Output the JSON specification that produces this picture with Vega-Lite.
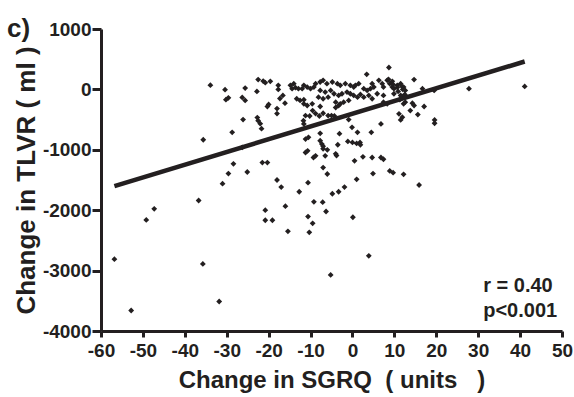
{
  "$schema": "https://vega.github.io/schema/vega-lite/v6.json",
  "width": 461,
  "height": 302,
  "autosize": {"type": "none"},
  "padding": {"left": 101, "top": 29, "right": 12, "bottom": 66},
  "background": "white",
  "title": {"text": "c)", "anchor": "start", "frame": "group", "dx": -94, "dy": 43, "offset": 0, "baseline": "alphabetic", "font": "Liberation Sans", "fontSize": 26, "fontWeight": "bold", "color": "#231f20"},
  "config": {
    "view": {"stroke": null},
    "axis": {
      "grid": false,
      "labelFont": "Liberation Sans", "labelFontWeight": "bold", "labelFontSize": 19, "labelColor": "#231f20",
      "domainColor": "#231f20", "domainWidth": 3, "tickColor": "#231f20", "tickWidth": 3, "tickSize": 6,
      "titleFont": "Liberation Sans", "titleFontWeight": "bold", "titleFontSize": 24, "titleColor": "#231f20",
      "labelFlush": false, "labelOverlap": false, "labelExpr": "'' + datum.value"
    }
  },
  "datasets": {
    "points": [
      {"x":-33.9,"y":70},{"x":-30.4,"y":-5},{"x":-25.6,"y":22},{"x":-29.6,"y":-140},{"x":-30.2,"y":-170},{"x":-26.3,"y":-133},{"x":-25.6,"y":-183},{"x":-22.5,"y":162},{"x":-21.3,"y":138},{"x":-19.6,"y":133},{"x":-22.8,"y":-33},{"x":-17.7,"y":67},{"x":-17.7,"y":0},{"x":-20.3,"y":-283},{"x":-20.0,"y":-250},{"x":-18.0,"y":-317},{"x":-18.0,"y":-400},{"x":-17.3,"y":-150},{"x":-16.6,"y":-100},{"x":-16.1,"y":-228},{"x":-26.1,"y":-500},{"x":-22.7,"y":-467},{"x":-22.5,"y":-517},{"x":-22.0,"y":-567},{"x":-21.7,"y":-650},{"x":-28.7,"y":-711},{"x":-35.6,"y":-833},{"x":-26.3,"y":-961},{"x":-28.4,"y":-1233},{"x":-29.6,"y":-1394},{"x":-25.1,"y":-1367},{"x":-21.5,"y":-1211},{"x":-20.3,"y":-1211},{"x":-18.0,"y":-1500},{"x":-10.5,"y":-794},{"x":-10.7,"y":-1017},{"x":-7.7,"y":-728},{"x":-7.7,"y":-850},{"x":-7.0,"y":-983},{"x":-6.0,"y":-1000},{"x":-9.3,"y":-1128},{"x":-7.0,"y":-1295},{"x":-6.0,"y":-1400},{"x":-4.0,"y":-1067},{"x":-3.1,"y":-733},{"x":-11.7,"y":-517},{"x":-11.2,"y":-433},{"x":-9.5,"y":-350},{"x":-8.8,"y":-400},{"x":-7.7,"y":-283},{"x":-5.8,"y":-433},{"x":-5.0,"y":-433},{"x":-4.0,"y":-300},{"x":-3.3,"y":-267},
      {"x":8.7,"y":362},{"x":3.4,"y":250},{"x":14.7,"y":162},{"x":27.8,"y":12},{"x":41.1,"y":50},{"x":19.5,"y":-17},{"x":16.7,"y":12},{"x":17.1,"y":-283},{"x":15.6,"y":-417},{"x":13.8,"y":-350},{"x":14.3,"y":-228},{"x":19.6,"y":-505},{"x":19.6,"y":-561},{"x":11.5,"y":-505},{"x":11.9,"y":-461},{"x":11.1,"y":-405},{"x":6.8,"y":-572},{"x":4.5,"y":-711},{"x":1.2,"y":-711},{"x":-0.1,"y":-628},{"x":-0.9,"y":-500},{"x":-1.1,"y":-861},{"x":1.0,"y":-895},{"x":1.8,"y":-878},{"x":1.9,"y":-917},{"x":-3.5,"y":-917},{"x":2.5,"y":-1117},{"x":4.7,"y":-1128},{"x":6.8,"y":-1128},{"x":7.4,"y":-1156},{"x":0.5,"y":-1183},{"x":4.9,"y":-1394},{"x":8.9,"y":-1350},{"x":9.7,"y":-1378},{"x":12.2,"y":-1406},{"x":1.0,"y":-1489},
      {"x":-56.8,"y":-2811},{"x":-52.8,"y":-3661},{"x":-49.2,"y":-2161},{"x":-47.3,"y":-1978},{"x":-36.7,"y":-1839},{"x":-35.7,"y":-2889},{"x":-31.8,"y":-3511},{"x":-31.0,"y":-1561},{"x":-20.8,"y":-2000},{"x":-20.8,"y":-2167},{"x":-19.1,"y":-2167},{"x":-17.0,"y":-1617},{"x":-16.0,"y":-1933},{"x":-15.4,"y":-2350},{"x":-12.7,"y":-1694},{"x":-10.6,"y":-1544},{"x":-10.6,"y":-2106},{"x":-9.5,"y":-2217},{"x":-10.3,"y":-2367},{"x":-9.2,"y":-1861},{"x":-7.1,"y":-1867},{"x":-6.3,"y":-2022},{"x":-4.8,"y":-1728},{"x":-3.3,"y":-1694},{"x":-5.2,"y":-3072},{"x":-1.9,"y":-1617},{"x":15.9,"y":-1583},{"x":0.1,"y":-2117},{"x":3.9,"y":-2756},
      {"x":-20.8,"y":112},{"x":-14.8,"y":67},{"x":-14.0,"y":95},{"x":-13.6,"y":28},{"x":-14.4,"y":12},{"x":-12.9,"y":12},{"x":-12.0,"y":12},{"x":-13.3,"y":-155},{"x":-12.5,"y":-183},{"x":-11.6,"y":-172},{"x":-11.6,"y":67},
      {"x":-10.8,"y":38},{"x":-10.0,"y":12},{"x":-9.2,"y":38},{"x":-8.8,"y":95},{"x":-7.7,"y":122},{"x":-7.0,"y":150},{"x":-6.1,"y":95},{"x":-4.8,"y":122},{"x":-7.7,"y":-17},{"x":-6.5,"y":-45},{"x":-5.2,"y":-17},{"x":-8.1,"y":-128},{"x":-7.0,"y":-155},{"x":-5.8,"y":-128},{"x":-11.6,"y":-239},{"x":-10.8,"y":-267},{"x":-9.6,"y":-239},{"x":-3.6,"y":95},{"x":-2.9,"y":67},{"x":-1.7,"y":95},{"x":-0.5,"y":67},{"x":0.3,"y":38},{"x":-4.4,"y":-72},{"x":-3.3,"y":-100},{"x":-2.5,"y":-72},{"x":-1.3,"y":-45},{"x":-0.5,"y":-72},{"x":-4.0,"y":-211},{"x":-2.9,"y":-239},{"x":-2.1,"y":-211},{"x":-0.9,"y":-183},{"x":-7.0,"y":-395},
      {"x":0.7,"y":67},{"x":1.5,"y":95},{"x":2.7,"y":12},{"x":3.5,"y":-17},{"x":4.3,"y":12},{"x":5.1,"y":38},{"x":4.7,"y":95},{"x":6.3,"y":150},{"x":7.1,"y":95},{"x":7.4,"y":38},{"x":8.3,"y":150},{"x":8.9,"y":95},{"x":9.5,"y":38},{"x":9.9,"y":12},{"x":10.7,"y":67},{"x":11.5,"y":95},{"x":0.3,"y":-100},{"x":1.2,"y":-128},{"x":1.9,"y":-83},{"x":2.7,"y":-128},{"x":3.9,"y":-100},{"x":4.7,"y":-155},{"x":5.9,"y":-72},{"x":7.4,"y":-100},{"x":7.4,"y":-211},{"x":8.3,"y":-239},{"x":9.9,"y":-72},{"x":11.5,"y":-100},
      {"x":12.2,"y":38},{"x":12.6,"y":-17},{"x":14.7,"y":-267},{"x":12.2,"y":-239},{"x":12.6,"y":-211},
      {"x":-10.2,"y":-440},{"x":-7.9,"y":-440},{"x":-4.3,"y":-440},{"x":-11.6,"y":-572},{"x":-11.2,"y":-822},{"x":-7.3,"y":-906},{"x":-7.0,"y":-940},{"x":0.0,"y":-878},{"x":-11.2,"y":-1045},{"x":-8.8,"y":-1100},{"x":-6.5,"y":-1100},{"x":-3.8,"y":-1095},
      {"x":8.6,"y":167},{"x":9.5,"y":133},{"x":9.7,"y":83},{"x":10.7,"y":33},{"x":10.9,"y":-33},{"x":11.8,"y":50},{"x":12.0,"y":0},{"x":12.5,"y":-83},{"x":11.3,"y":-167},{"x":11.8,"y":-117}
    ],
    "fit": [{"x": -56.8, "y": -1600}, {"x": 41.1, "y": 462}],
    "stats": [{"x": 31.2, "y": -3349, "label": "r = 0.40"}, {"x": 31.2, "y": -3764, "label": "p<0.001"}]
  },
  "encoding": {
    "x": {"field": "x", "type": "quantitative",
      "scale": {"domain": [-60, 50], "nice": false, "zero": false},
      "axis": {"values": [-60,-50,-40,-30,-20,-10,0,10,20,30,40,50], "title": "Change in SGRQ\u00a0\u00a0(\u00a0units\u00a0\u00a0\u00a0)", "labelPadding": 4, "titlePadding": 8}},
    "y": {"field": "y", "type": "quantitative",
      "scale": {"domain": [-4000, 1000], "nice": false, "zero": false},
      "axis": {"values": [-4000,-3000,-2000,-1000,0,1000], "title": "Change in TLVR ( ml )", "titleFontSize": 26, "tickSize": 9, "labelPadding": 1, "titlePadding": 3}}
  },
  "layer": [
    {"data": {"name": "points"}, "mark": {"type": "point", "shape": "diamond", "filled": true, "size": 34, "color": "#231f20", "opacity": 1}},
    {"data": {"name": "fit"}, "mark": {"type": "line", "color": "#231f20", "strokeWidth": 4.5}},
    {"data": {"name": "stats"}, "mark": {"type": "text", "align": "left", "baseline": "alphabetic", "font": "Liberation Sans", "fontWeight": "bold", "fontSize": 20, "color": "#231f20"},
     "encoding": {"text": {"field": "label"}}}
  ]
}
